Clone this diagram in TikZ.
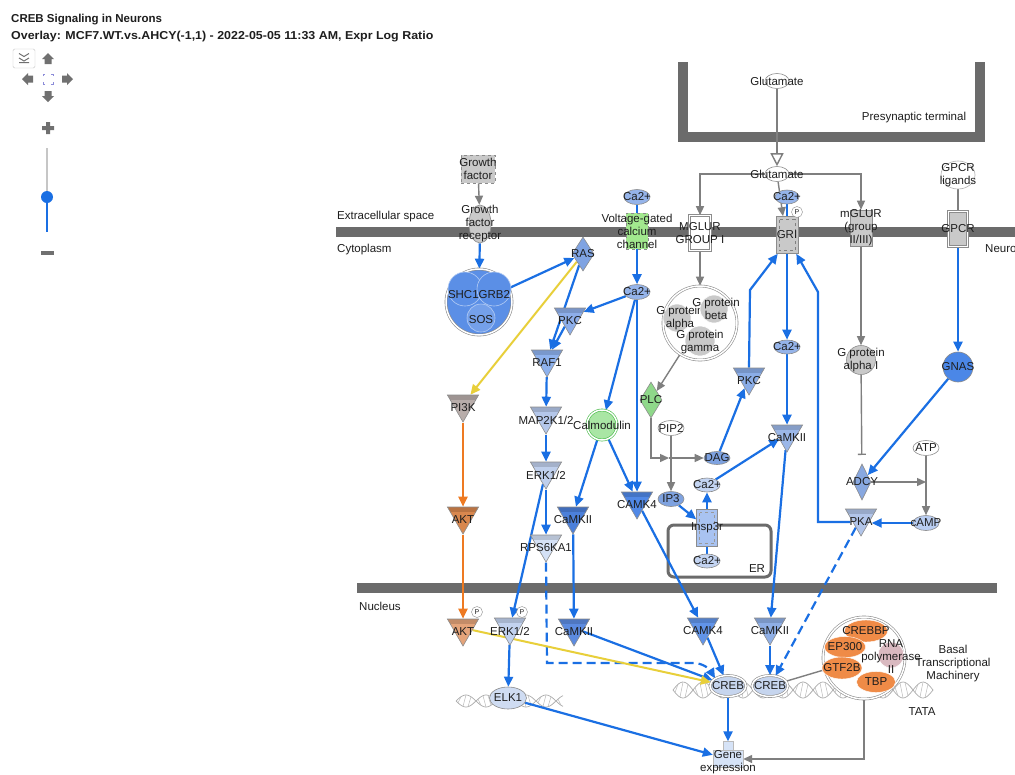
\documentclass[tikz,border=0pt]{standalone}
\usepackage{fontspec}
\setmainfont{Liberation Sans}
\usetikzlibrary{arrows.meta,shapes.geometric,calc}
\pgfdeclarelayer{back}
\pgfdeclarelayer{edges}
\pgfsetlayers{back,edges,main}
\definecolor{eb}{HTML}{1A6FE3}
\definecolor{eg}{HTML}{7F7F7F}
\definecolor{ey}{HTML}{E8CF3A}
\definecolor{eo}{HTML}{EE7A22}
\definecolor{memc}{HTML}{6B6B6B}
\definecolor{txt}{HTML}{1E1E1E}
\definecolor{nb}{HTML}{8C8C8C}
\definecolor{ctrl}{HTML}{707070}
\definecolor{fRAS}{HTML}{7FA3E2}
\definecolor{fPKCa}{HTML}{8DAEEA}
\definecolor{fRAF}{HTML}{8EB2EE}
\definecolor{fMAP}{HTML}{B4C7EA}
\definecolor{fERK}{HTML}{BFCFEC}
\definecolor{fRPS}{HTML}{D4E1F6}
\definecolor{fCKa}{HTML}{4C80DA}
\definecolor{fCK4}{HTML}{5088E6}
\definecolor{fPI3K}{HTML}{B8ADAA}
\definecolor{fAKT}{HTML}{D8874E}
\definecolor{fAKTN}{HTML}{E4A47A}
\definecolor{fERKN}{HTML}{C2D2EF}
\definecolor{fCKN}{HTML}{5C8BE0}
\definecolor{fCK4N}{HTML}{6194E9}
\definecolor{fCKNb}{HTML}{8FAFE6}
\definecolor{fPKCb}{HTML}{8AADE8}
\definecolor{fCKb}{HTML}{9BB7E8}
\definecolor{fPKA}{HTML}{B2C5E9}
\definecolor{fSHC}{HTML}{5B8FE6}
\definecolor{fGNAS}{HTML}{4B87E7}
\definecolor{fCalm}{HTML}{A9E6A4}
\definecolor{fPLC}{HTML}{8FD88A}
\definecolor{fVG}{HTML}{A2E88E}
\definecolor{fDAG}{HTML}{7EA2E0}
\definecolor{fCa}{HTML}{95B4EA}
\definecolor{fCaL}{HTML}{C3D4F2}
\definecolor{fcAMP}{HTML}{B9CDF1}
\definecolor{fIns}{HTML}{A9C3F1}
\definecolor{fCREB}{HTML}{C6D5EE}
\definecolor{fELK}{HTML}{CFDCF2}
\definecolor{fGene}{HTML}{D6E3F7}
\definecolor{fOr}{HTML}{EF8B47}
\definecolor{fGray}{HTML}{C9C9C9}
\definecolor{fRNA}{HTML}{D9B9C0}
\definecolor{fADCY}{HTML}{88A8E0}
\begin{document}
\begin{tikzpicture}[x=1pt,y=-1pt,
 lbl/.style={font=\fontsize{11.5}{13}\selectfont, text=txt, align=center, inner sep=0pt},
 clab/.style={label={[lbl]center:#1}},
 klab/.style={label={[lbl,yshift=-4pt]center:#1}},
 kin/.style={regular polygon, regular polygon sides=3, shape border rotate=180, minimum size=36pt, inner sep=0pt, draw=nb, line width=.6pt,
   path picture={\fill[black,opacity=.14] (path picture bounding box.north west) rectangle ([yshift=-5pt]path picture bounding box.north east);}},
 mol/.style={ellipse, minimum width=26pt, minimum height=15pt, inner sep=0pt, draw=nb, line width=.6pt},
 dia/.style={diamond, minimum width=20pt, minimum height=36pt, inner sep=0pt, draw=nb, line width=.6pt},
 bx/.style={rectangle, minimum width=22pt, minimum height=37pt, inner sep=0pt, draw=nb, line width=.6pt},
 cir/.style={circle, inner sep=0pt, draw=nb, line width=.6pt},
 dbl/.style={double=white, double distance=1.5pt},
 innerdash/.style={path picture={\draw[dashed, draw=#1, line width=.5pt] ([shift={(3pt,-3pt)}]path picture bounding box.north west) rectangle ([shift={(-3pt,3pt)}]path picture bounding box.south east);}},
 pc/.style={circle, draw=nb, fill=white, minimum size=11pt, inner sep=0pt, font=\fontsize{7}{7}\selectfont, text=txt},
 bl/.style={draw=eb, line width=2.2pt, -{Triangle[length=10pt,width=9pt]}},
 bln/.style={draw=eb, line width=2.2pt},
 bld/.style={bl, dash pattern=on 9pt off 5pt},
 gy/.style={draw=eg, line width=1.4pt, -{Triangle[length=9pt,width=8pt]}},
 gyn/.style={draw=eg, line width=1.4pt},
 gyo/.style={draw=eg, line width=1.4pt, -{Triangle[open,length=13pt,width=13pt,fill=white]}},
 gyinh/.style={draw=eg, line width=1.4pt, -{Bar[width=8pt]}, shorten >=9pt},
 yl/.style={draw=ey, line width=2pt, -{Triangle[length=10pt,width=9pt]}},
 orr/.style={draw=eo, line width=2.2pt, -{Triangle[length=10pt,width=9pt]}},
 dna/.style={draw=gray!65, line width=.7pt},
 dnar/.style={draw=gray!55, line width=.5pt},
 comp/.style={font=\fontsize{11.5}{13}\selectfont, text=txt, inner sep=0pt}
]
\useasboundingbox (0,0) rectangle (1015,774);
\begin{pgfonlayer}{back}
\fill[white] (0,0) rectangle (1015,774);
\fill[memc] (336,227) rectangle (1015,237);
\fill[memc] (357,583) rectangle (997,593);
\draw[memc, line width=10pt] (683,62) -- (683,137) -- (980,137) -- (980,62);
\draw[memc, line width=3pt, rounded corners=6pt] (668,525) rectangle (771,577);
\foreach \xa/\xb/\yc/\am in {673/933/690/8, 456/563/701/6} {
  \draw[dna] plot[domain=\xa:\xb, samples=140] (\x,{\yc+\am*sin((\x-\xa)*9)});
  \draw[dna] plot[domain=\xa:\xb, samples=140] (\x,{\yc-\am*sin((\x-\xa)*9)});
}
\foreach \xx in {675,680,...,928} {\draw[dnar] (\xx,{690+8*sin((\xx-673)*9)}) -- ({\xx+3},{690-8*sin((\xx+3-673)*9)});}
\foreach \xx in {458,463,...,558} {\draw[dnar] (\xx,{701+6*sin((\xx-456)*9)}) -- ({\xx+3},{701-6*sin((\xx+3-456)*9)});}
\end{pgfonlayer}

% ---- title and controls
\node[anchor=base west, inner sep=0, font=\bfseries\fontsize{11.5}{12}\selectfont, text=txt] (title) at (11,22) {CREB Signaling in Neurons};
\node[anchor=base west, inner sep=0, font=\bfseries\fontsize{11.5}{12}\selectfont, text=txt] (subtitle) at (11,39) {\scalebox{1.08}[1]{Overlay: MCF7.WT.vs.AHCY(-1,1) - 2022-05-05 11:33 AM, Expr Log Ratio}};
\draw[gray!45, fill=white, rounded corners=1.5pt] (13,49) rectangle (35,68);
\draw[ctrl, line width=1pt] (19,53.5) -- (24,56.5) -- (29,53.5) (19,58) -- (24,61) -- (29,58) (19,62.5) -- (29,62.5);
\fill[ctrl] (48,53) -- (54,59) -- (51.5,59) -- (51.5,64) -- (44.5,64) -- (44.5,59) -- (42,59) -- cycle;
\fill[ctrl] (48,102) -- (54,96) -- (51.5,96) -- (51.5,91) -- (44.5,91) -- (44.5,96) -- (42,96) -- cycle;
\fill[ctrl] (22,79) -- (28,73) -- (28,75.5) -- (33,75.5) -- (33,82.5) -- (28,82.5) -- (28,85) -- cycle;
\fill[ctrl] (73,79) -- (67,73) -- (67,75.5) -- (62,75.5) -- (62,82.5) -- (67,82.5) -- (67,85) -- cycle;
\draw[gray!50!blue!60, line width=.8pt] (43,76) -- (43,74) -- (45,74) (51,74) -- (53,74) -- (53,76) (43,82) -- (43,84) -- (45,84) (51,84) -- (53,84) -- (53,82);
\fill[ctrl] (46,122) rectangle (50,134) (42,126) rectangle (54,130);
\draw[gray!45, line width=1.5pt] (47,148) -- (47,192);
\draw[eb, line width=2pt] (47,197) -- (47,232);
\fill[eb] (47,197) circle (6);
\fill[ctrl] (41,250.5) rectangle (54,255);

% ---- compartment labels
\node[comp, anchor=west] (lex) at (337,217) {Extracellular space};
\node[comp, anchor=west] (lcy) at (337,250) {Cytoplasm};
\node[comp, anchor=west] (lneu) at (985,249) {Neuro};
\node[comp, anchor=west] (lnuc) at (359,606) {Nucleus};
\node[comp] (lpre) at (914,118) {Presynaptic terminal};
\node[comp] (ler) at (757,569) {ER};
\node[comp, align=center] (lbtm) at (953,664) {Basal\\Transcriptional\\Machinery};
\node[comp] (ltata) at (922,712) {TATA};

% ---- nodes: glutamate / receptors
\node[mol, fill=white, minimum width=24pt, clab=Glutamate] (glut1) at (777,81) {};
\node[mol, fill=white, minimum width=24pt, clab=Glutamate] (glut2) at (777,174) {};
\node[bx, dbl, fill=white, minimum width=21pt, minimum height=35pt, clab={MGLUR\\GROUP I}] (mglur1) at (700,233) {};
\node[mol, fill=fCa, minimum width=24pt, minimum height=14pt, clab=Ca2+] (ca2gri) at (787,197) {};
\node[bx, fill=fGray, innerdash=gray, clab=GRI] (gri) at (787,235) {};
\node[pc] (pgri) at (797,212) {P};
\node[bx, fill=fGray, minimum height=36pt, clab={mGLUR\\(group\\II/III)}] (mglur23) at (861,228) {};
\node[ellipse, draw=nb!70, fill=white, minimum width=34pt, minimum height=28pt, inner sep=0pt, line width=.6pt, clab={GPCR\\ligands}] (gpcrlig) at (958,175) {};
\node[bx, dbl, fill=fGray, minimum width=19pt, minimum height=35pt, clab=GPCR] (gpcr) at (958,229) {};
\node[cir, fill=fGNAS, minimum size=30pt, clab=GNAS] (gnas) at (958,367) {};
\node[cir, fill=fGray, minimum size=29pt, clab={G protein\\alpha I}] (gpai) at (861,360) {};
\node[dia, fill=fADCY, minimum width=18pt, minimum height=36pt, clab=ADCY] (adcy) at (862,482) {};
\node[mol, fill=white, clab=ATP] (atp) at (926,448) {};
\node[mol, fill=fcAMP, clab=cAMP] (camp) at (926,523) {};
\node[kin, fill=fPKA, klab=PKA] (pka) at (861,518) {};
\coordinate (ac) at (926,482);

% ---- middle column
\node[mol, fill=fCa, minimum height=14pt, clab=Ca2+] (ca2g) at (787,347) {};
\node[kin, fill=fCKb, klab=CaMKII] (camkii2) at (787,434) {};
\node[kin, fill=fPKCb, klab=PKC] (pkc2) at (749,377) {};
\node[mol, fill=fDAG, minimum height=13pt, clab=DAG] (dag) at (717,458) {};
\node[dia, fill=fPLC, minimum width=22pt, minimum height=36pt, clab=PLC] (plc) at (651,400) {};
\node[mol, fill=white, clab=PIP2] (pip2) at (671,428) {};
\node[mol, fill=fDAG, clab=IP3] (ip3) at (671,499) {};
\node[bx, fill=fIns, minimum width=21pt, innerdash=gray!80, clab=Insp3r] (insp3r) at (707,528) {};
\node[mol, fill=fCaL, minimum height=14pt, clab=Ca2+] (ca2c) at (707,485) {};
\node[mol, fill=fCaL, minimum height=14pt, clab=Ca2+] (ca2er) at (707,561) {};
\coordinate (jx) at (669,458);
\coordinate (k1) at (750,290);
\coordinate (k2) at (818,292);

% ---- G protein complex
\node[cir, dbl, fill=white, minimum size=74pt] (gcx) at (700,323) {};
\node[cir, fill=fGray, draw=white, minimum size=28pt] (ga) at (677,318) {};
\node[lbl] (gat) at (680,318) {G protein\\alpha};
\node[cir, fill=fGray, draw=white, minimum size=28pt] (gb) at (714,309) {};
\node[lbl] (gbt) at (716,309) {G protein\\beta};
\node[cir, fill=fGray, draw=white, minimum size=30pt] (gg) at (700,341) {};
\node[lbl] (ggt) at (700,342) {G protein\\gamma};

% ---- left column
\node[bx, fill=fGray, dashed, minimum width=34pt, minimum height=28pt, clab={Growth\\factor}] (gf) at (478,169) {};
\node[ellipse, fill=fGray, draw=nb, line width=.6pt, minimum width=22pt, minimum height=38pt, inner sep=0pt, clab={Growth\\factor\\receptor}] (gfr) at (480,224) {};
\node[cir, dbl, fill=fSHC, minimum size=66pt] (shc) at (479,302) {};
\node[cir, fill=fSHC, draw=white!55!fSHC, minimum size=34pt] (shc1) at (465,289) {};
\node[cir, fill=fSHC, draw=white!55!fSHC, minimum size=34pt] (grb2) at (494,289) {};
\node[cir, fill=fSHC!85!white, draw=white!55!fSHC, minimum size=28pt] (sos) at (481,318) {};
\node[lbl] (shct) at (479,295) {SHC1GRB2};
\node[lbl] (sost) at (481,320) {SOS};
\node[dia, fill=fRAS, minimum width=22pt, minimum height=34pt, clab=RAS] (ras) at (583,254) {};
\node[mol, fill=fCa, clab=Ca2+] (ca2a) at (637,197) {};
\node[bx, fill=fVG, dashed, minimum width=22pt, minimum height=36pt, clab={Voltage-gated\\calcium\\channel}] (vgcc) at (637,231) {};
\node[mol, fill=fCa, clab=Ca2+] (ca2b) at (637,292) {};
\node[kin, fill=fPKCa, klab=PKC] (pkc1) at (570,317) {};
\node[kin, fill=fRAF, klab=RAF1] (raf1) at (547,359) {};
\node[kin, fill=fMAP, klab=MAP2K1/2] (map2k) at (546,416) {};
\node[kin, fill=fERK, klab=ERK1/2] (erk1) at (546,471) {};
\node[kin, fill=fRPS, klab=RPS6KA1] (rps) at (546,544) {};
\node[cir, fill=fCalm, draw=green!45!gray, minimum size=30pt, dbl, clab=Calmodulin] (calm) at (602,425) {};
\node[kin, fill=fCKa, klab=CaMKII] (camkii1) at (573,516) {};
\node[kin, fill=fCK4, klab=CAMK4] (camk4) at (637,501) {};
\node[kin, fill=fPI3K, klab=PI3K] (pi3k) at (463,404) {};
\node[kin, fill=fAKT, klab=AKT] (akt) at (463,516) {};

% ---- nucleus
\node[kin, fill=fAKTN, klab=AKT] (aktN) at (463,628) {};
\node[pc] (pakt) at (477,612) {P};
\node[kin, fill=fERKN, klab=ERK1/2] (erkN) at (510,627) {};
\node[pc] (perk) at (522,612) {P};
\node[kin, fill=fCKN, klab=CaMKII] (camkiiN1) at (574,628) {};
\node[kin, fill=fCK4N, klab=CAMK4] (camk4N) at (703,627) {};
\node[kin, fill=fCKNb, klab=CaMKII] (camkiiN2) at (770,627) {};
\node[ellipse, fill=fELK, draw=nb, line width=.6pt, minimum width=37pt, minimum height=22pt, inner sep=0pt, clab=ELK1] (elk1) at (508,698) {};
\node[ellipse, dbl, fill=fCREB, draw=nb, line width=.6pt, minimum width=36pt, minimum height=21pt, inner sep=0pt, clab=CREB] (creb1) at (728,686) {};
\node[ellipse, dbl, fill=fCREB, draw=nb, line width=.6pt, minimum width=36pt, minimum height=21pt, inner sep=0pt, clab=CREB] (creb2) at (770,686) {};
\node[rectangle, fill=fGene, draw=nb!60, minimum width=10pt, minimum height=9pt, inner sep=0pt] (genetab) at (728,746) {};
\node[rectangle, fill=fGene, draw=nb!60, minimum width=30pt, minimum height=17pt, inner sep=0pt] (gene) at (728,759) {};
\node[lbl] (genet) at (728,762) {Gene\\expression};

% ---- basal transcription complex
\node[cir, dbl, fill=white, minimum size=82pt] (basal) at (864,658) {};
\node[ellipse, fill=fOr, draw=white, inner sep=0pt, minimum width=43pt, minimum height=22pt, clab=CREBBP] (crebbp) at (866,631) {};
\node[ellipse, fill=fOr, draw=white, inner sep=0pt, minimum width=41pt, minimum height=21pt, clab=EP300] (ep300) at (845,647) {};
\node[cir, fill=fRNA, draw=white, minimum size=26pt] (rna) at (891,655) {};
\node[ellipse, fill=fOr, draw=white, inner sep=0pt, minimum width=40pt, minimum height=22pt, clab=GTF2B] (gtf2b) at (842,668) {};
\node[ellipse, fill=fOr, draw=white, inner sep=0pt, minimum width=39pt, minimum height=21pt, clab=TBP] (tbp) at (876,682) {};
\node[lbl] (rnat) at (891,657) {RNA\\polymerase\\II};

% ---- connectors
\begin{pgfonlayer}{edges}
\draw[gyo] (glut1) -- (glut2);
\draw[gy] (glut2.west) -| (mglur1.north);
\draw[gy] (glut2.east) -| (mglur23.north);
\draw[gy] (glut2) -- ([xshift=-4pt]gri.north);
\draw[gy] (gf) -- (gfr);
\draw[gyn] (gpcrlig) -- (gpcr);
\draw[gy] (mglur1) -- (gcx);
\draw[gy] (mglur23) -- (gpai);
\draw[gyinh] (gpai) -- (adcy);
\draw[gy] (gcx) -- (plc);
\draw[gy] (plc.south) |- (jx);
\draw[gy] (jx) -- (dag);
\draw[gy] (pip2) -- (ip3);
\draw[gy] (adcy) -- (ac);
\draw[gy] (atp) -- (camp);
\draw[gyn] (basal) -- (creb2);
\draw[gy] (basal.south) |- (gene.east);
% blue
\draw[bl] (gfr) -- (shc);
\draw[bl] (shc) -- (ras);
\draw[bl] (ras) -- (raf1);
\draw[yl] (ras) -- (pi3k);
\draw[bln] (ca2a) -- (vgcc);
\draw[bl] (vgcc) -- (ca2b);
\draw[bl] (ca2b) -- (pkc1);
\draw[bl] (pkc1) -- (raf1);
\draw[bl] (raf1) -- (map2k);
\draw[bl] (map2k) -- (erk1);
\draw[bl] (erk1) -- (rps);
\draw[bl] (erk1) -- (erkN);
\draw[bl] (ca2b) -- (calm);
\draw[bl] (ca2b) -- (camk4);
\draw[bl] (calm) -- (camkii1);
\draw[bl] (calm) -- (camk4);
\draw[bl] (camkii1) -- (camkiiN1);
\draw[bl] (camk4) -- (camk4N);
\draw[bl] (camkiiN1) -- (creb1);
\draw[bl] (camk4N) -- (creb1);
\draw[bld] (rps.south) -- (547,663) -- (693,663) .. controls (704,663) and (710,670) .. (creb1.north west);
\draw[orr] (pi3k) -- (akt);
\draw[orr] (akt) -- (aktN);
\draw[yl] (aktN) -- (creb1);
\draw[bl] (erkN) -- (elk1);
\draw[bl] (elk1) -- (gene);
\draw[bl] (creb1) -- (genetab);
\draw[bl] (camkiiN2) -- (creb2);
\draw[bld] (pka) -- (creb2);
\draw[bl] (camkii2) -- (camkiiN2);
\draw[bl] (ca2c) -- (camkii2);
\draw[bl] (ca2g) -- (camkii2);
\draw[bl] (gri) -- (ca2g);
\draw[bl] (pkc2.north) -- (k1) -- ([xshift=2pt]gri.south west);
\draw[bl] ([yshift=-4pt]pka.west) -| (k2) -- ([xshift=-2pt]gri.south east);
\draw[bln] (ca2gri) -- (gri);
\draw[bl] (dag) -- (pkc2);
\draw[bl] (ip3) -- (insp3r);
\draw[bl] (insp3r) -- (ca2c);
\draw[bln] (ca2er) -- (insp3r);
\draw[bl] (gpcr) -- (gnas);
\draw[bl] (gnas) -- (adcy);
\draw[bl] (camp.west) -- (camp.west -| pka.east);
\end{pgfonlayer}
\end{tikzpicture}
\end{document}
